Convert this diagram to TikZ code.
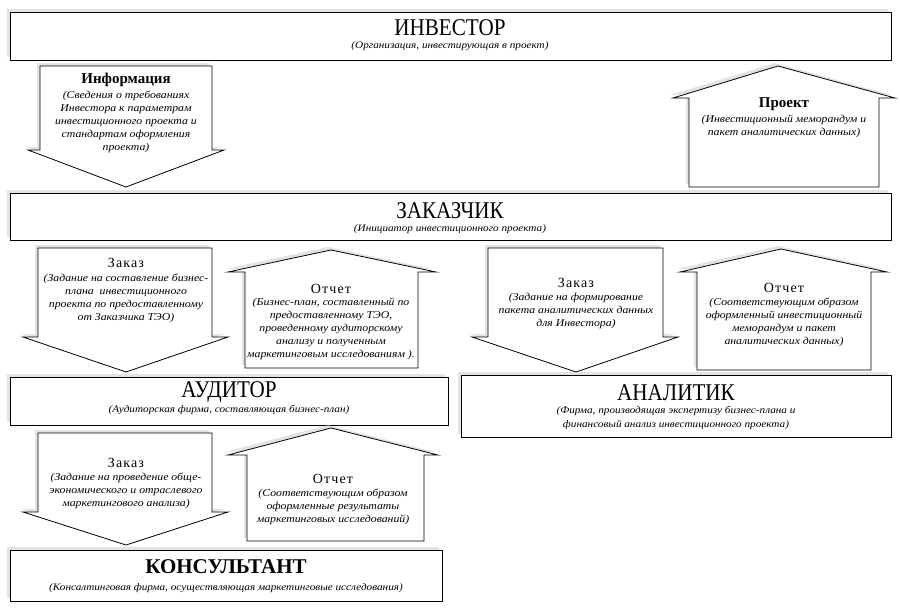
\documentclass[tikz,border=0pt]{standalone}
\usepackage{fontspec}
\setmainfont{Liberation Serif}
\newfontfamily\notefont[FakeStretch=1.12]{Liberation Serif}
\newfontfamily\spacedfont[LetterSpace=8]{Liberation Serif}
\newfontfamily\narrowfont[FakeStretch=0.88]{Liberation Serif}
\usetikzlibrary{positioning, shadows}

\tikzset{
  panel/.style={draw, line width=0.8pt, fill=white,
    drop shadow={shadow xshift=-3pt, shadow yshift=3pt, fill=black!22}},
  blockarrow/.style={panel, line join=miter},
  bigtitle/.style={font=\narrowfont\fontsize{24}{26}\selectfont, inner sep=0pt},
  boldtitle/.style={font=\bfseries\fontsize{15}{18}\selectfont, inner sep=0pt},
  spacedtitle/.style={font=\spacedfont\fontsize{14}{16}\selectfont, inner sep=0pt},
  note/.style={font=\notefont\itshape\fontsize{10.5}{13}\selectfont, align=center, inner sep=0pt},
  subnote/.style={font=\notefont\itshape\fontsize{10}{14}\selectfont, align=center, inner sep=0pt}
}

\begin{document}
\begin{tikzpicture}[x=1pt, y=-1pt]
    \useasboundingbox (0,0) rectangle (900,608);

    % =================================================================
    % 1. ИНВЕСТОР
    % =================================================================
    \draw[panel] (10,12) rectangle (891,60);
    \node[bigtitle] (investor) at (450,28) {ИНВЕСТОР};
    \node[subnote] (investorNote) at (450,46) {(Организация, инвестирующая в проект)};

    % Информация (вниз)
    \draw[blockarrow] (40,66) -- (212,66) -- (212,150) -- (224,150) -- (126,187)
        -- (28,150) -- (40,150) -- cycle;
    \node[boldtitle] (info) at (126,80) {Информация};
    \node[note] (infoNote) at (126,122) {(Сведения о требованиях\\Инвестора к параметрам\\инвестиционного проекта и\\стандартам оформления\\проекта)};

    % Проект (вверх)
    \draw[blockarrow] (689,187) -- (689,98) -- (673,98) -- (778,66) -- (895,98)
        -- (879,98) -- (879,187) -- cycle;
    \node[boldtitle] (project) at (784,104) {Проект};
    \node[note] (projectNote) at (784,126) {(Инвестиционный меморандум и\\пакет аналитических данных)};

    % =================================================================
    % 2. ЗАКАЗЧИК
    % =================================================================
    \draw[panel] (10,193) rectangle (891,240);
    \node[bigtitle] (customer) at (450,211) {ЗАКАЗЧИК};
    \node[subnote] (customerNote) at (450,229) {(Инициатор инвестиционного проекта)};

    % Заказ аудитору
    \draw[blockarrow] (38,248) -- (212,248) -- (212,337) -- (228,337) -- (126,372)
        -- (23,337) -- (38,337) -- cycle;
    \node[spacedtitle] (orderA) at (126,263) {Заказ};
    \node[note] (orderANote) at (126,298) {(Задание на составление бизнес-\\плана\ \ инвестиционного\\проекта по предоставленному\\от Заказчика ТЭО)};

    % Отчет аудитора
    \draw[blockarrow] (245,368) -- (245,272) -- (228,272) -- (331,250) -- (436,272)
        -- (418,272) -- (418,368) -- cycle;
    \node[spacedtitle] (reportA) at (331,289) {Отчет};
    \node[note] (reportANote) at (331,329) {(Бизнес-план, составленный по\\предоставленному ТЭО,\\проведенному аудиторскому\\анализу и полученным\\маркетинговым исследованиям ).};

    % Заказ аналитику
    \draw[blockarrow] (488,248) -- (663,248) -- (663,337) -- (678,337) -- (576,372)
        -- (472,337) -- (488,337) -- cycle;
    \node[spacedtitle] (orderB) at (576,283) {Заказ};
    \node[note] (orderBNote) at (576,311) {(Задание на формирование\\пакета аналитических данных\\для Инвестора)};

    % Отчет аналитика
    \draw[blockarrow] (697,370) -- (697,272) -- (680,272) -- (781,249) -- (887,272)
        -- (871,272) -- (871,370) -- cycle;
    \node[spacedtitle] (reportB) at (784,288) {Отчет};
    \node[note] (reportBNote) at (784,322) {(Соответствующим образом\\оформленный инвестиционный\\меморандум и пакет\\аналитических данных)};

    % =================================================================
    % 3. АУДИТОР и АНАЛИТИК
    % =================================================================
    \draw[panel] (10,377) rectangle (448,425);
    \node[bigtitle] (auditor) at (229,392) {АУДИТОР};
    \node[subnote] (auditorNote) at (229,410) {(Аудиторская фирма, составляющая бизнес-план)};

    \draw[panel] (461,375) rectangle (891,437);
    \node[bigtitle] (analyst) at (676,393) {АНАЛИТИК};
    \node[subnote] (analystNote) at (676,418) {(Фирма, производящая экспертизу бизнес-плана и\\финансовый анализ инвестиционного проекта)};

    % Заказ консультанту
    \draw[blockarrow] (38,433) -- (212,433) -- (212,512) -- (228,512) -- (126,545)
        -- (23,512) -- (38,512) -- cycle;
    \node[spacedtitle] (orderC) at (126,463) {Заказ};
    \node[note] (orderCNote) at (126,491) {(Задание на проведение обще-\\экономического и отраслевого\\маркетингового анализа)};

    % Отчет консультанта
    \draw[blockarrow] (247,541) -- (247,455) -- (228,455) -- (331,428) -- (438,455)
        -- (424,455) -- (424,541) -- cycle;
    \node[spacedtitle] (reportC) at (333,479) {Отчет};
    \node[note] (reportCNote) at (333,507) {(Соответствующим образом\\оформленные результаты\\маркетинговых исследований)};

    % =================================================================
    % 4. КОНСУЛЬТАНТ
    % =================================================================
    \draw[panel] (10,550) rectangle (442,601);
    \node[boldtitle, font=\bfseries\fontsize{21}{24}\selectfont] (consultant) at (226,567) {КОНСУЛЬТАНТ};
    \node[subnote] (consultantNote) at (226,588) {(Консалтинговая фирма, осуществляющая маркетинговые исследования)};

\end{tikzpicture}
\end{document}
